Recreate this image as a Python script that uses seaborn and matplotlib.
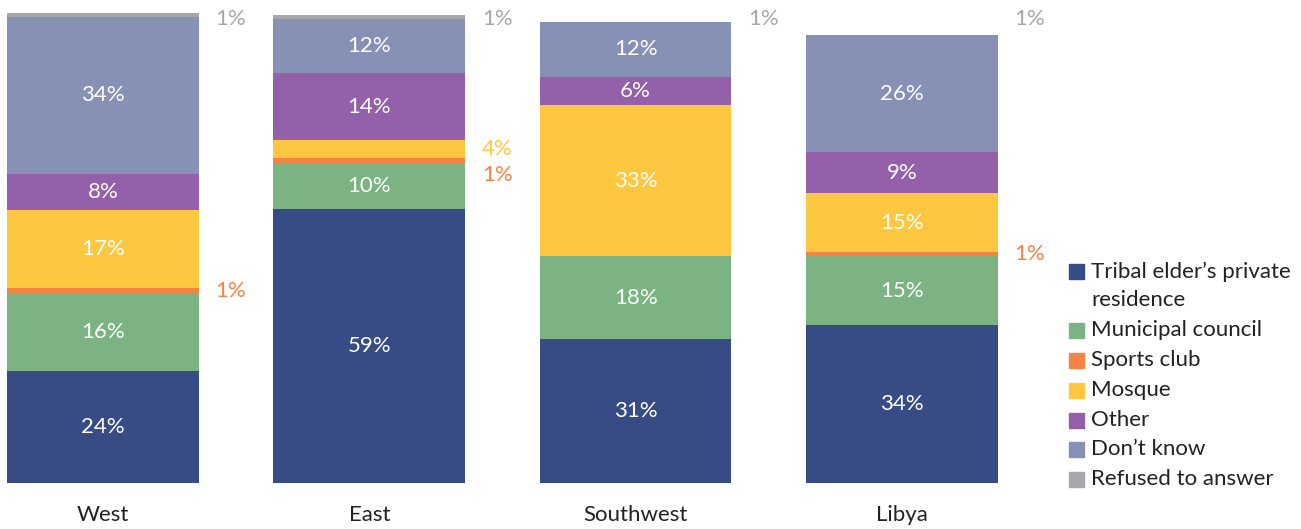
import numpy as np
import matplotlib
matplotlib.use('Agg')
import matplotlib.pyplot as plt
import seaborn as sns
from matplotlib.patches import Rectangle

sns.set_theme(style='white')
plt.rcParams['font.family'] = ['Lato', 'DejaVu Sans']

# data (bar heights in %, printed labels separately)
regions = ['West', 'East', 'Southwest', 'Libya']
categories = ['Tribal elder\u2019s private\nresidence', 'Municipal council', 'Sports club',
              'Mosque', 'Other', 'Don\u2019t know', 'Refused to answer']
colors = ['#374c84', '#7bb482', '#f58345', '#fdc73f', '#9360a9', '#8790b5', '#a7a7a9']

tribal = [23.9, 58.4, 30.7, 33.7]
municipal = [16.6, 9.8, 17.7, 14.7]
sports = [1.1, 1.1, 0.0, 0.85]
mosque = [16.6, 3.8, 32.2, 12.6]
other = [7.7, 14.3, 6.0, 8.7]
dont_know = [33.5, 11.5, 11.7, 24.9]
refused = [0.9, 1.0, 0.0, 0.0]

tribal_lbl = [24, 59, 31, 34]
municipal_lbl = [16, 10, 18, 15]
sports_lbl = [1, 1, None, 1]
mosque_lbl = [17, 4, 33, 15]
other_lbl = [8, 14, 6, 9]
dont_know_lbl = [34, 12, 12, 26]
refused_lbl = [1, 1, 1, 1]

layers = np.array([tribal, municipal, sports, mosque, other, dont_know, refused])
labels = [tribal_lbl, municipal_lbl, sports_lbl, mosque_lbl, other_lbl, dont_know_lbl, refused_lbl]
cum = np.cumsum(layers, axis=0)

FS = 16

fig = plt.figure(figsize=(13.01, 5.29), dpi=100)
ax = fig.add_axes([0, 46 / 529, 1, 483 / 529])

# stacked bars: draw cumulative totals from the top layer down
for k in range(len(layers) - 1, -1, -1):
    sns.barplot(x=regions, y=cum[k], color=colors[k], saturation=1, width=0.72,
                errorbar=None, linewidth=0, ax=ax)

ax.set_xlim(-0.387, 4.499)
ax.set_ylim(0, 103)
ax.set_yticks([])
ax.set_ylabel('')
sns.despine(ax=ax, left=True, bottom=True)
ax.tick_params(axis='x', length=0, pad=16, labelsize=FS, labelcolor='#222222')

# value labels
off = 0.48
top_y = cum[-1].max() - 1.3
for i in range(len(regions)):
    outside = []
    for k in range(len(layers) - 1):
        lbl = labels[k][i]
        if lbl is None:
            continue
        h = layers[k][i]
        yc = cum[k][i] - h / 2
        if h >= 5:
            ax.text(i, yc, f'{lbl}%', color='white', ha='center', va='center', fontsize=FS)
        else:
            outside.append([yc, lbl, colors[k]])
    # push overlapping outside labels apart
    outside.sort(key=lambda r: -r[0])
    for j in range(1, len(outside)):
        if outside[j - 1][0] - outside[j][0] < 5.5:
            outside[j][0] = outside[j - 1][0] - 5.5
    for yc, lbl, c in outside:
        ax.text(i + off, yc, f'{lbl}%', color=c, ha='center', va='center', fontsize=FS)
    ax.text(i + off, top_y, f'{refused_lbl[i]}%', color=colors[-1], ha='center',
            va='center', fontsize=FS)

# legend
row_y = [271, 330, 360, 390, 420, 449, 479]
for k, cat in enumerate(categories):
    yf = 1 - row_y[k] / 529
    fig.patches.append(Rectangle((1069 / 1301, yf - 7.5 / 529), 15 / 1301, 15 / 529,
                                 transform=fig.transFigure, color=colors[k]))
    if k == 0:
        fig.text(1091 / 1301, 1 - (row_y[0] + 15) / 529, cat, ha='left', va='center',
                 fontsize=FS, color='#222222', linespacing=1.5)
    else:
        fig.text(1091 / 1301, yf, cat, ha='left', va='center', fontsize=FS, color='#222222')

fig.savefig('out.png', dpi=100)
